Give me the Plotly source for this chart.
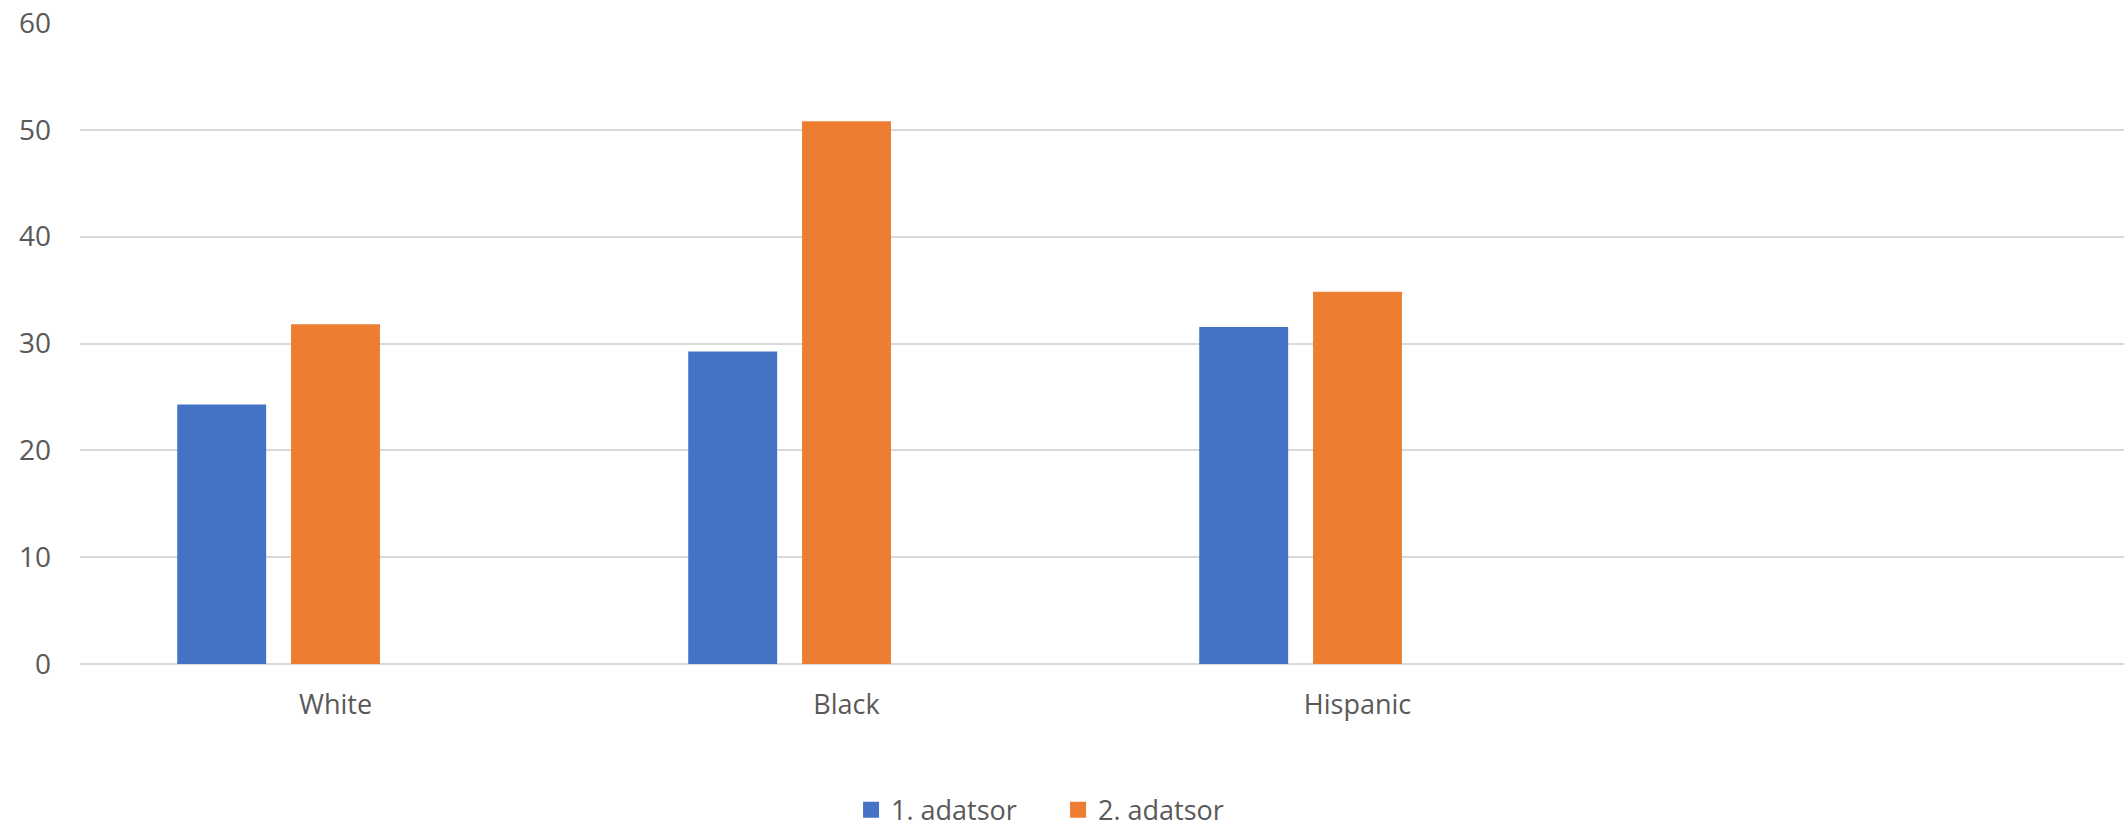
import plotly.graph_objects as go

# Data
categories = ["White", "Black", "Hispanic"]
series_names = ["1. adatsor", "2. adatsor"]
series_1 = [24.3, 29.25, 31.55]
series_2 = [31.8, 50.8, 34.85]
y_ticks = [0, 10, 20, 30, 40, 50, 60]

colors = ["#4472C4", "#ED7D31"]
text_color = "#595959"
grid_color = "#D9D9D9"
font_family = "Open Sans, Lato, sans-serif"

# Category slots: three slots per category (third left empty), one extra empty category
n_slots = 3
slot = 0.2227
bar_w = 0.174
x_pos = list(range(len(categories)))

fig = go.Figure()
for i, (name, vals) in enumerate(zip(series_names, [series_1, series_2])):
    offset = (i - (n_slots - 1) / 2) * slot - bar_w / 2
    fig.add_trace(go.Bar(
        x=x_pos, y=vals, name=name,
        width=bar_w, offset=offset,
        marker=dict(color=colors[i], line=dict(width=0)),
        showlegend=False,
    ))
    # legend swatch
    fig.add_trace(go.Scatter(
        x=[None], y=[None], mode="markers", name=name,
        marker=dict(symbol="square", size=18, color=colors[i]),
        showlegend=True,
    ))

fig.update_layout(
    width=2124, height=829,
    margin=dict(l=80, r=0, t=23, b=165, autoexpand=False),
    plot_bgcolor="white", paper_bgcolor="white",
    barmode="overlay",
    font=dict(family=font_family, size=27, color=text_color),
    legend=dict(
        orientation="h", x=0.4785, xanchor="center",
        y=-0.228, yanchor="middle",
        font=dict(size=27, color=text_color),
        entrywidth=162, entrywidthmode="pixels",
        bgcolor="rgba(0,0,0,0)",
    ),
    xaxis=dict(
        range=[-0.5, 3.5],
        tickmode="array", tickvals=x_pos, ticktext=categories,
        showgrid=False, zeroline=False, showline=False,
        ticks="", ticklabelstandoff=22,
        tickfont=dict(size=27, color=text_color),
        fixedrange=True,
    ),
    yaxis=dict(
        range=[0, 60],
        tickmode="array", tickvals=y_ticks,
        showgrid=True, gridcolor=grid_color, gridwidth=1.5,
        zeroline=True, zerolinecolor=grid_color, zerolinewidth=1.5,
        showline=False, ticks="", ticklabelstandoff=28,
        tickfont=dict(size=28, color=text_color),
        fixedrange=True,
    ),
)

fig.write_html("out.html")
